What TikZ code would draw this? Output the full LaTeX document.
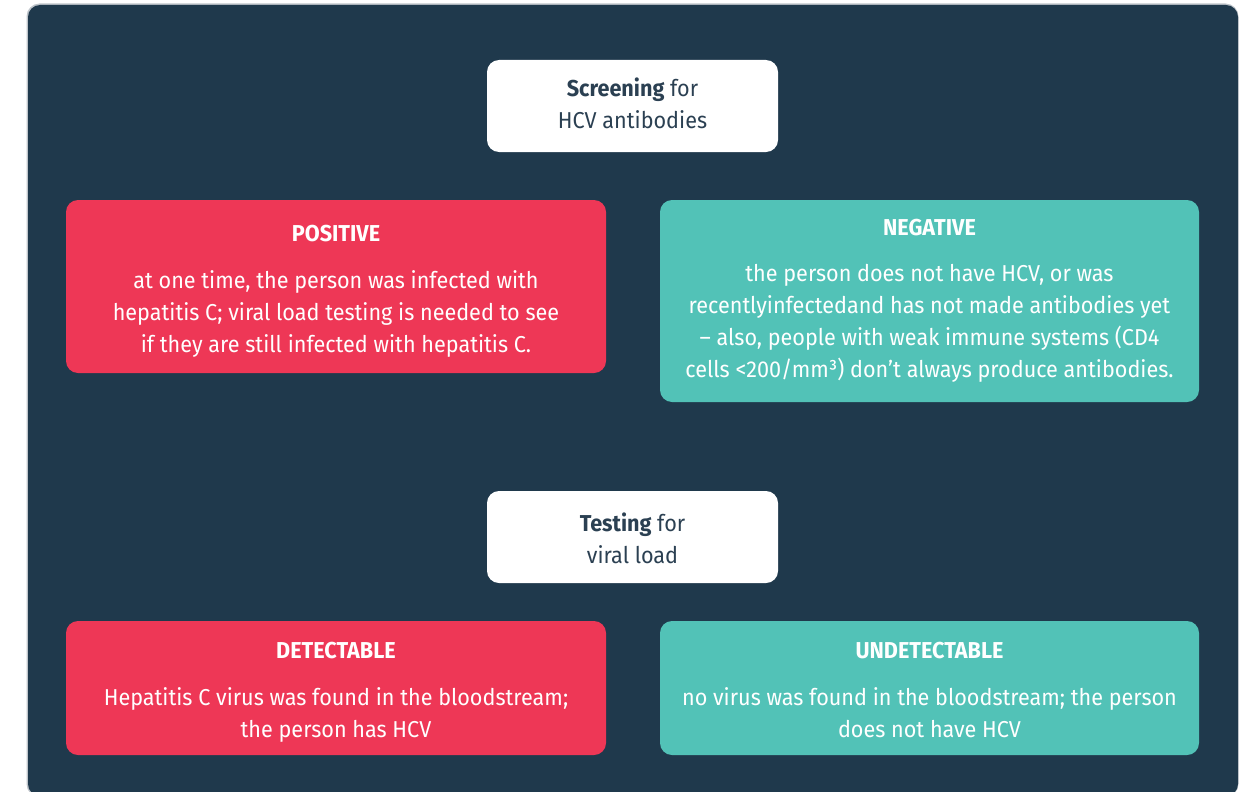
\documentclass[tikz,border=0pt]{standalone}
\usepackage{fontspec}
\setmainfont{Fira Sans}[FakeStretch=0.94]
\definecolor{navy}{RGB}{31,57,76}
\definecolor{hcvred}{RGB}{238,55,86}
\definecolor{hcvteal}{RGB}{82,194,183}
\definecolor{darktxt}{RGB}{43,64,82}
\definecolor{edgegray}{RGB}{190,196,202}
\tikzset{
  box/.style={rectangle, rounded corners=12pt, inner sep=0pt, draw=none},
  redbox/.style={box, fill=hcvred},
  tealbox/.style={box, fill=hcvteal},
  whitebox/.style={box, fill=white},
  ttl/.style={anchor=base, inner sep=0pt, text=white, font=\fontsize{23}{32}\selectfont\bfseries},
  body/.style={anchor=north, inner sep=0pt, align=center, text=white, font=\fontsize{23}{32}\selectfont, execute at begin node={\strut}},
  wtxt/.style={anchor=north, inner sep=0pt, align=center, text=darktxt, font=\fontsize{23}{32}\selectfont, execute at begin node={\strut}}
}
\begin{document}
\begin{tikzpicture}[x=1pt,y=-1pt]
\useasboundingbox (0,0) rectangle (1242,792);
\begin{scope}
\clip (0,0) rectangle (1242,792);
\fill[edgegray, rounded corners=13pt] (26.5,3.5) rectangle (1238.5,797);
\fill[navy, rounded corners=12pt] (28,5) rectangle (1238,796);
\end{scope}
% boxes
\node[whitebox, minimum width=291pt, minimum height=92pt] (scr) at (632.5,106) {};
\node[redbox, minimum width=540pt, minimum height=173pt] (pos) at (336,286.5) {};
\node[tealbox, minimum width=539pt, minimum height=202pt] (neg) at (929.5,301) {};
\node[whitebox, minimum width=291pt, minimum height=92pt] (tst) at (632.5,537) {};
\node[redbox, minimum width=540pt, minimum height=134pt] (det) at (336,688) {};
\node[tealbox, minimum width=539pt, minimum height=134pt] (und) at (929.5,688) {};
% white box texts
\node[wtxt] (scrT) at (632.5,78) {\textbf{Screening} for\\HCV antibodies};
\node[wtxt] (tstT) at (632.5,513) {\textbf{Testing} for\\viral load};
% titles
\node[ttl] (posT) at (336,241) {POSITIVE};
\node[ttl] (negT) at (929.5,235) {NEGATIVE};
\node[ttl] (detT) at (336,658) {DETECTABLE};
\node[ttl] (undT) at (929.5,658) {UNDETECTABLE};
% bodies
\node[body] (posB) at (336,270) {at one time, the person was infected with\\hepatitis C; viral load testing is needed to see\\if they are still infected with hepatitis C.};
\node[body] (negB) at (929.5,264) {the person does not have HCV, or was\\recentlyinfectedand has not made antibodies yet\\– also, people with weak immune systems (CD4\\cells <200/mm³) don’t always produce antibodies.};
\node[body] (detB) at (336,687) {Hepatitis C virus was found in the bloodstream;\\the person has HCV};
\node[body] (undB) at (929.5,687) {no virus was found in the bloodstream; the person\\does not have HCV};
\end{tikzpicture}
\end{document}
